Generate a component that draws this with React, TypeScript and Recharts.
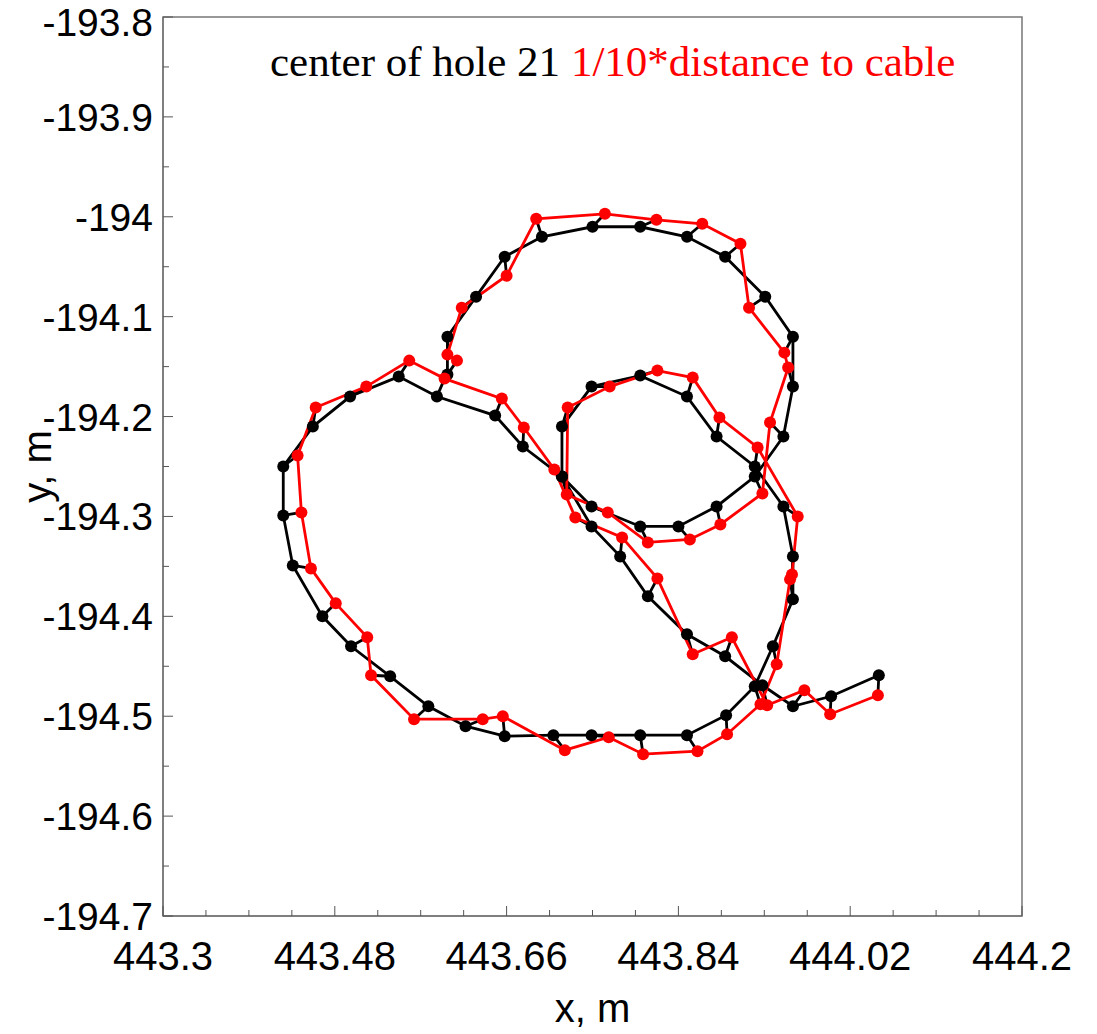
import React from 'react';
import {
  LineChart,
  Line,
  XAxis,
  YAxis,
  ReferenceArea,
} from 'recharts';

// hole centre track (black) and its cable-offset partner (red), same point order
const holeX = [
  444.05, 444.0, 443.96, 443.928, 443.889, 443.849, 443.808, 443.779, 443.749, 443.718,
  443.677, 443.648, 443.587,
  443.547, 443.496, 443.457, 443.426, 443.426, 443.436, 443.467, 443.497, 443.538, 443.578,
  443.617, 443.658, 443.709, 443.749, 443.8, 443.849, 443.89, 443.92, 443.939, 443.96,
  443.96, 443.95, 443.92, 443.88, 443.849, 443.8, 443.749, 443.718, 443.718,
  443.749, 443.8, 443.84, 443.88, 443.92, 443.95, 443.96, 443.96, 443.931, 443.889,
  443.849, 443.8, 443.75, 443.697, 443.658, 443.628, 443.598, 443.598,
];
const holeY = [
  -194.459, -194.48, -194.49, -194.469, -194.44, -194.418, -194.38, -194.34, -194.31, -194.26,
  -194.23, -194.199, -194.18,
  -194.16, -194.18, -194.21, -194.25, -194.299, -194.349, -194.4, -194.43, -194.46, -194.49,
  -194.51, -194.52, -194.519, -194.519, -194.519, -194.519, -194.499, -194.47, -194.43, -194.383,
  -194.34, -194.29, -194.25, -194.22, -194.18, -194.159, -194.17, -194.21, -194.26,
  -194.29, -194.31, -194.31, -194.29, -194.26, -194.22, -194.17, -194.12, -194.08, -194.04,
  -194.02, -194.01, -194.01, -194.02, -194.04, -194.08, -194.12, -194.158,
];
const cableX = [
  444.049, 443.999, 443.972, 443.933, 443.896, 443.855, 443.818, 443.781, 443.732, 443.71,
  443.678, 443.655, 443.595,
  443.558, 443.513, 443.46, 443.441, 443.445, 443.455, 443.481, 443.514, 443.518, 443.563,
  443.635, 443.656, 443.721, 443.767, 443.803, 443.86, 443.891, 443.926, 443.943, 443.957,
  443.959, 443.965, 443.923, 443.883, 443.855, 443.818, 443.768, 443.724, 443.723,
  443.766, 443.808, 443.852, 443.884, 443.928, 443.936, 443.955, 443.951, 443.914, 443.905,
  443.865, 443.817, 443.763, 443.691, 443.66, 443.613, 443.598, 443.608,
];
const cableY = [
  -194.479, -194.498, -194.474, -194.489, -194.421, -194.438, -194.362, -194.321, -194.301, -194.253,
  -194.211, -194.182, -194.162,
  -194.144, -194.17, -194.191, -194.239, -194.296, -194.352, -194.387, -194.421, -194.459, -194.503,
  -194.503, -194.5, -194.534, -194.521, -194.538, -194.535, -194.518, -194.488, -194.448, -194.363,
  -194.358, -194.3, -194.231, -194.201, -194.161, -194.154, -194.17, -194.191, -194.278,
  -194.296, -194.326, -194.323, -194.308, -194.277, -194.206, -194.151, -194.136, -194.091, -194.027,
  -194.007, -194.003, -193.997, -194.002, -194.059, -194.091, -194.138, -194.144,
];

const xTicks = [443.3, 443.48, 443.66, 443.84, 444.02, 444.2];
const yTicks = [-194.7, -194.6, -194.5, -194.4, -194.3, -194.2, -194.1, -194, -193.9, -193.8];
const xMinor = [443.345, 443.39, 443.435, 443.525, 443.57, 443.615, 443.705, 443.75, 443.795,
  443.885, 443.93, 443.975, 444.065, 444.11, 444.155];
const yMinor = [-194.65, -194.55, -194.45, -194.35, -194.25, -194.15, -194.05, -193.95, -193.85];

const holePts = holeX.map((x, i) => ({ x, y: holeY[i] }));
const cablePts = cableX.map((x, i) => ({ x, y: cableY[i] }));
// short links from each hole point to its cable point, split by null gaps
const linkPts = holeX.flatMap((x, i) => [
  { x, y: holeY[i] },
  { x: cableX[i], y: cableY[i] },
  { x: cableX[i], y: null },
]);

const sans = '"Liberation Sans", Arial, sans-serif';
const serif = '"Liberation Serif", "Times New Roman", serif';

function XTick(props: any) {
  const { x, y, payload } = props;
  const major = xTicks.includes(payload.value);
  return (
    <g>
      <line x1={x} x2={x} y1={y} y2={y - (major ? 10 : 6)} stroke="#555" strokeWidth={1} />
      {major && (
        <text x={x} y={y + 54} textAnchor="middle" fontFamily={sans} fontSize={40} fill="#000">
          {String(payload.value)}
        </text>
      )}
    </g>
  );
}

function YTick(props: any) {
  const { x, y, payload } = props;
  const major = yTicks.includes(payload.value);
  // the top label sits against the page edge, nudge it down a little
  const dy = payload.value === -193.8 ? 19 : 14;
  return (
    <g>
      <line x1={x} x2={x + (major ? 10 : 6)} y1={y} y2={y} stroke="#555" strokeWidth={1} />
      {major && (
        <text x={x - 10} y={y + dy} textAnchor="end" fontFamily={sans} fontSize={39} fill="#000">
          {String(payload.value)}
        </text>
      )}
    </g>
  );
}

function Title(props: any) {
  const vb = props.viewBox || { x: 0, y: 0 };
  return (
    <text x={vb.x + 107} y={vb.y + 59} fontFamily={serif} fontSize={43}>
      <tspan fill="#000">center of hole 21 </tspan>
      <tspan fill="#ff0000">1/10*distance to cable</tspan>
    </text>
  );
}

function YLabel(props: any) {
  const vb = props.viewBox || { x: 0, y: 0, height: 0 };
  const cx = vb.x + 38;
  const cy = vb.y + vb.height / 2;
  return (
    <text
      x={cx}
      y={cy}
      transform={`rotate(-90 ${cx} ${cy})`}
      textAnchor="middle"
      fontFamily={sans}
      fontSize={40}
      fill="#000"
    >
      y, m
    </text>
  );
}

export default function App() {
  return (
    <div style={{ position: 'absolute', left: 0, top: 0, width: 1097, height: 1034, background: '#fff' }}>
      <LineChart width={1097} height={1034} margin={{ top: 17, right: 75, left: 13, bottom: 18 }}>
        <XAxis
          dataKey="x"
          type="number"
          domain={[443.3, 444.2]}
          ticks={[...xTicks, ...xMinor]}
          interval={0}
          tickSize={0}
          tickMargin={0}
          tick={<XTick />}
          axisLine={{ stroke: '#777', strokeWidth: 1.5 }}
          height={100}
          allowDataOverflow
          label={{ value: 'x, m', position: 'insideBottom', offset: -6, fontFamily: sans, fontSize: 40, fill: '#000' }}
        />
        <YAxis
          dataKey="y"
          type="number"
          domain={[-194.7, -193.8]}
          ticks={[...yTicks, ...yMinor]}
          interval={0}
          tickSize={0}
          tickMargin={0}
          tick={<YTick />}
          axisLine={{ stroke: '#777', strokeWidth: 1.5 }}
          width={150}
          allowDataOverflow
          label={{ content: YLabel }}
        />
        <ReferenceArea
          x1={443.3}
          x2={444.2}
          y1={-194.7}
          y2={-193.8}
          fill="none"
          stroke="#777"
          strokeWidth={1.5}
          label={Title}
        />
        <Line
          data={linkPts}
          dataKey="y"
          type="linear"
          stroke="#000"
          strokeWidth={2.8}
          dot={false}
          activeDot={false}
          isAnimationActive={false}
        />
        <Line
          data={holePts}
          dataKey="y"
          type="linear"
          stroke="#000"
          strokeWidth={2.8}
          dot={{ r: 6, fill: '#000', stroke: '#000', strokeWidth: 0 }}
          activeDot={false}
          isAnimationActive={false}
        />
        <Line
          data={cablePts}
          dataKey="y"
          type="linear"
          stroke="#ff0000"
          strokeWidth={2.8}
          dot={{ r: 6, fill: '#ff0000', stroke: '#ff0000', strokeWidth: 0 }}
          activeDot={false}
          isAnimationActive={false}
        />
      </LineChart>
    </div>
  );
}
